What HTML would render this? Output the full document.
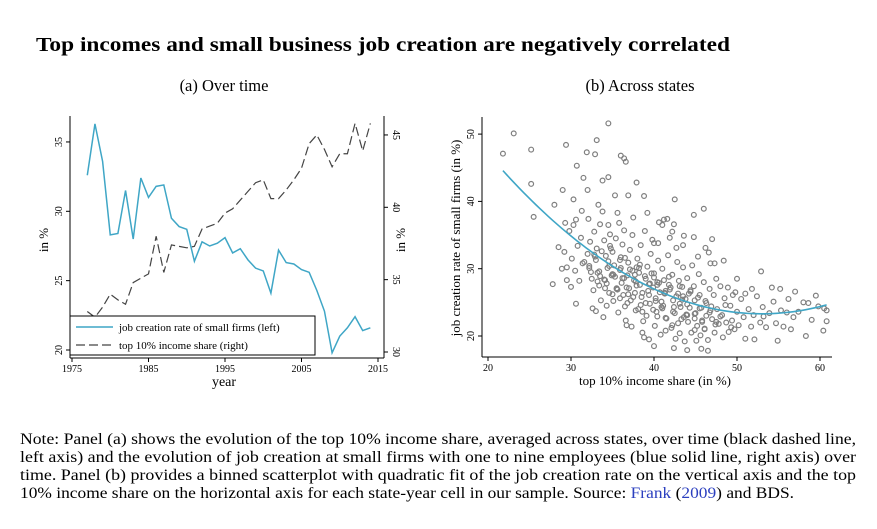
<!DOCTYPE html>
<html><head><meta charset="utf-8"><style>
html,body{margin:0;padding:0;background:#fff;}
svg{display:block;font-family:"Liberation Serif",serif;}
</style></head><body>
<svg id="root" width="877" height="529" viewBox="0 0 877 529" xmlns="http://www.w3.org/2000/svg">
<text x="36" y="51" font-size="20" font-weight="bold" textLength="694" lengthAdjust="spacingAndGlyphs">Top incomes and small business job creation are negatively correlated</text>
<text x="224" y="91" font-size="16.5" text-anchor="middle">(a) Over time</text>
<text x="640" y="91" font-size="16.5" text-anchor="middle">(b) Across states</text>
<g id="pa"></g>
<g id="pb"></g>
<g font-size="15.5">
<text x="20" y="444" textLength="836" lengthAdjust="spacingAndGlyphs">Note: Panel (a) shows the evolution of the top 10% income share, averaged across states, over time (black dashed line,</text>
<text x="20" y="462" textLength="836" lengthAdjust="spacingAndGlyphs">left axis) and the evolution of job creation at small firms with one to nine employees (blue solid line, right axis) over</text>
<text x="20" y="480" textLength="836" lengthAdjust="spacingAndGlyphs">time. Panel (b) provides a binned scatterplot with quadratic fit of the job creation rate on the vertical axis and the top</text>
<text x="20" y="498" textLength="774" lengthAdjust="spacingAndGlyphs">10% income share on the horizontal axis for each state-year cell in our sample. Source: <tspan fill="#2b3fbf">Frank</tspan> (<tspan fill="#2b3fbf">2009</tspan>) and BDS.</text>
</g>
</svg>
<script>
const years=[1977,1978,1979,1980,1981,1982,1983,1984,1985,1986,1987,1988,1989,1990,1991,1992,1993,1994,1995,1996,1997,1998,1999,2000,2001,2002,2003,2004,2005,2006,2007,2008,2009,2010,2011,2012,2013,2014];
const jobRate=[32.6,36.3,33.6,28.3,28.4,31.5,28.0,32.4,31.0,31.8,31.9,29.5,28.9,28.7,26.4,27.8,27.5,27.7,28.1,27.0,27.3,26.5,25.9,25.7,24.1,27.2,26.3,26.2,25.8,25.6,24.3,22.8,19.8,21.0,21.6,22.4,21.4,21.6];
const topShare=[32.8,32.4,33.1,34.0,33.6,33.3,34.8,35.1,35.4,38.0,35.5,37.4,37.3,37.2,37.3,38.5,38.7,38.9,39.6,39.9,40.5,41.1,41.7,41.9,40.6,40.6,41.2,41.9,42.7,44.4,45.0,44.0,42.8,43.7,43.7,45.8,43.9,45.8];
const yearTicks=[1975,1985,1995,2005,2015];
const leftTicks=[20,25,30,35];
const rightTicks=[30,35,40,45];
const scatterX=[21.8,23.1,25.2,25.2,25.5,29.4,31.9,32.9,33.1,34.5,34.5,30.7,31.5,36,36.4,36.6,37.9,42.5,46,44.8,28,29,30.3,32,33.8,35.3,36.9,38.8,27.8,30.6,33,36.7,38.8,40,42.4,44,45.7,46.5,52.9,55.2,57,59.5,60.8,60.8,60.4,58.3,54.9,52.1,51,56.5,53.2,56.2,58,54.2,51.8,50,49.8,48.4,47.3,46.2,47,44.8,43.5,41,39.2,41.2,42.2,40.5,
29.2,29.5,30.1,30.5,30.8,31,29.8,30.3,31.2,30,29.5,31.4,28.5,28.9,30.6,31.3,29.3,
32,32.2,32.5,32.7,32.3,32.8,33,33.2,33.4,33.6,33.1,33.5,33.8,34,34.2,34.4,34.1,34.6,34.3,34.8,34.9,32.6,33.9,32.1,33.3,34.5,34.7,
35,35.2,35.3,35.5,35.1,35.7,35.4,35.8,35.9,36,36.1,36.3,36.2,36.5,36.6,36.8,36.9,37,37.2,37.1,37.4,37.5,37.6,37.8,37.3,35.6,36.4,37.9,37.7,
38,38.2,38.3,38.5,38.1,38.7,38.4,38.9,39,39.2,39.3,39.5,39.1,39.6,39.8,39.9,40,40.2,40.3,40.1,40.5,40.6,40.4,40.7,40.9,40.8,38.6,39.4,40,
41,41.2,41.3,41.1,41.5,41.4,41.7,41.9,42,42.2,42.3,42.5,42.1,42.6,42.8,42.9,43,43.2,43.3,43.1,43.5,43.6,43.4,43.8,43.9,43.7,42.4,41.6,42.7,
44,44.2,44.3,44.1,44.5,44.6,44.8,44.9,45,45.2,45.1,45.4,45.5,45.7,45.8,45.6,46,46.2,46.3,46.1,46.5,46.7,46.8,46.9,46.6,45.3,
47,47.2,47.3,47.5,47.6,47.8,48,48.2,48.3,48.5,48.7,48.9,49,49.2,49.4,49.5,49.7,50,50.2,50.5,50.8,51,51.4,51.7,52,52.4,52.8,53.1,53.5,53.9,54.4,54.7,55.3,55.6,56,56.8,57.4,58.6,59,59.8,60.5,
31.6,32.4,32.9,33.5,33.7,34.3,34.6,35.1,35.6,35.9,36.2,36.7,37.1,37.5,37.8,38.3,38.6,39,39.4,39.7,40.2,40.6,41,41.4,41.8,42.3,42.7,43.1,43.6,44,44.4,44.9,45.3,45.8,46.3,46.8,47.4,48,48.6,49.3,
32.2,32.8,33.4,34,34.5,35,35.5,36,36.4,36.9,37.4,37.9,38.4,38.9,39.4,39.9,40.4,40.9,41.4,41.9,42.4,42.9,43.4,43.9,44.4,44.9,45.5,46.1,46.7,47.5,
33.2,34.1,35,35.9,36.8,37.7,38.6,39.5,40.4,41.3,42.2,43.1,44,44.9,34.7,36.5,38.2,40,41.8,43.5];
const scatterY=[47.1,50.1,47.7,42.6,37.7,48.4,47.3,47,49.1,51.6,43.6,45.3,43.5,46.8,46.4,45.9,42.8,40.3,38.9,38,39.5,41.7,40.3,41.7,43.1,40.9,40.9,40.8,27.7,24.8,23.7,21.6,19.8,18.5,18.2,17.9,18.1,17.8,29.6,27,26.6,26,23.8,22.2,20.8,20,19.3,19.5,19.6,21,22.9,25.5,25,27.2,27,28.5,26.5,31.2,30.8,33.1,34.4,34.7,33.5,36.5,38.3,37.3,35.5,33.8,
32.5,30.2,31.5,29.7,33.4,28.2,35.6,36.5,34.6,27.3,28.3,30.8,33.2,30,37.3,38.6,36.8,
32.2,30.1,28.5,26.8,34,35.5,31.3,29.4,27.5,25.3,33,36.6,38.5,34.2,31.9,30.1,28.3,26.4,24.5,33,29,24.1,22.8,37.4,39.5,36.5,35.1,
32.5,30.5,28.8,27,25.2,23.5,34.5,36.8,29.8,31.7,27.9,26.1,33.6,24.4,22.3,29,30.9,27.1,25.3,32.8,35,37.6,28.3,23.8,21.4,38.3,35.7,30.2,26.4,
31.5,29.4,27.6,25.8,24,22.2,33.5,35.6,28.5,30.3,26.7,24.8,23,32.2,34.3,27.2,29.3,25.6,23.6,21.5,31.2,36.9,28,26.5,24.3,20.2,20.5,19.5,33.8,
30,28.3,26.4,24.5,22.6,20.8,32,34.6,27.2,29.1,25.3,23.4,21.2,19.6,31,26.3,28.2,24.3,22.5,20.4,30.2,34.9,27.3,25.5,23.1,19.2,36.6,37.4,33.1,
28.6,26.3,24.2,22.1,20.5,30.5,27.4,25.3,23.4,21.5,19.3,29.2,26.1,24.2,22.3,20.1,28,25.2,23,21,19.4,27,30.8,24.4,32.4,31.8,
22.5,26.1,20.5,28.5,24,21.8,27.4,23.1,19.8,25.6,22,27.2,20.6,24.5,22.3,26.1,21,23.6,21.6,25.5,22.8,26.3,24,21.4,23.1,25.9,22,24.3,21.3,23.4,25.1,21.9,23.8,21.4,23.5,22.8,23.6,24.9,22.4,24.4,24.1,
31,29.5,31.8,28.9,32.6,27.8,30.4,29.1,26.9,31.3,28.6,27.2,29.9,25.8,28.1,30.6,26.4,24.9,27.7,29.3,25.2,27.9,24.1,26.7,28.8,23.6,25.9,27.4,22.8,24.7,26.8,23.3,25.7,22.1,24.9,23.8,21.7,22.9,24.6,21.3,
30.4,32.1,29.6,28.4,31.1,29.2,27.1,30.1,28.6,26.2,29.7,27.5,24.6,28.9,26.1,23.9,27.6,25.1,22.7,26.9,24.3,21.9,25.4,23.2,26.6,22.6,24.1,21.1,23.5,22.1,
28.1,27.1,26.2,25.6,24.9,29.1,23.6,27.8,22.9,26.3,21.6,24.8,23.1,20.9,33.4,31.6,30.1,28.7,27.6,25.9];
const xTicksB=[20,30,40,50,60];
const yTicksB=[20,30,40,50];
const fitCoef=[0.02185,53,23.3]; // a*(x-h)^2+k
const fitRange=[21.8,61];

const NS="http://www.w3.org/2000/svg";
function mk(parent,tag,attrs){const e=document.createElementNS(NS,tag);for(const k in attrs)e.setAttribute(k,attrs[k]);parent.appendChild(e);return e;}

// Panel A
const pa=document.getElementById('pa');
const xA=y=>72+(y-1975)*7.65;
const yL=v=>350-(v-20)*13.87;
const yR=v=>352-(v-30)*14.47;
let e;
e=mk(pa,'line',{x1:70,y1:358,x2:384,y2:358,stroke:'#000','stroke-width':1});

e=mk(pa,'line',{x1:70,y1:116,x2:70,y2:358,stroke:'#000','stroke-width':1});

e=mk(pa,'line',{x1:384,y1:116,x2:384,y2:358,stroke:'#000','stroke-width':1});

yearTicks.forEach(t=>{const x=xA(t);mk(pa,'line',{x1:x,y1:358,x2:x,y2:362,stroke:'#000'});
 e=mk(pa,'text',{x:x,y:372,'font-size':10,'text-anchor':'middle'});e.textContent=t;
 });
leftTicks.forEach(t=>{const y=yL(t);mk(pa,'line',{x1:66,y1:y,x2:70,y2:y,stroke:'#000'});
 e=mk(pa,'text',{x:0,y:0,'font-size':10,'text-anchor':'middle',transform:`translate(62,${y}) rotate(-90)`});e.textContent=t;
 });
rightTicks.forEach(t=>{const y=yR(t);mk(pa,'line',{x1:384,y1:y,x2:388,y2:y,stroke:'#000'});
 e=mk(pa,'text',{x:0,y:0,'font-size':10,'text-anchor':'middle',transform:`translate(393,${y}) rotate(90)`});e.textContent=t;
 });
e=mk(pa,'text',{x:0,y:0,'font-size':13,'text-anchor':'middle',transform:'translate(48,240) rotate(-90)'});e.textContent='in %';

e=mk(pa,'text',{x:0,y:0,'font-size':13,'text-anchor':'middle',transform:'translate(405,240) rotate(-90)'});e.textContent='in %';

e=mk(pa,'text',{x:224,y:386,'font-size':14,'text-anchor':'middle'});e.textContent='year';

e=mk(pa,'polyline',{points:years.map((y,i)=>xA(y)+','+yR(topShare[i])).join(' '),fill:'none',stroke:'#444','stroke-width':1.2,'stroke-dasharray':'9,4'});

e=mk(pa,'polyline',{points:years.map((y,i)=>xA(y)+','+yL(jobRate[i])).join(' '),fill:'none',stroke:'#3fa6c6','stroke-width':1.5});

e=mk(pa,'rect',{x:70,y:316,width:245,height:39,fill:'#fff',stroke:'#000','stroke-width':1});

mk(pa,'line',{x1:76,y1:327,x2:113,y2:327,stroke:'#3fa6c6','stroke-width':1.5});
e=mk(pa,'text',{x:119,y:331,'font-size':11});e.textContent='job creation rate of small firms (left)';

mk(pa,'line',{x1:76,y1:345,x2:113,y2:345,stroke:'#444','stroke-width':1.2,'stroke-dasharray':'9,4'});
e=mk(pa,'text',{x:119,y:349,'font-size':11});e.textContent='top 10% income share (right)';


// Panel B
const pb=document.getElementById('pb');
const xB=v=>488+(v-20)*8.3;
const yB=v=>336-(v-20)*6.73;
e=mk(pb,'line',{x1:482,y1:357,x2:832,y2:357,stroke:'#000'});

e=mk(pb,'line',{x1:482,y1:117,x2:482,y2:357,stroke:'#000'});

xTicksB.forEach(t=>{const x=xB(t);mk(pb,'line',{x1:x,y1:357,x2:x,y2:361,stroke:'#000'});
 e=mk(pb,'text',{x:x,y:371,'font-size':10,'text-anchor':'middle'});e.textContent=t;
 });
yTicksB.forEach(t=>{const y=yB(t);mk(pb,'line',{x1:478,y1:y,x2:482,y2:y,stroke:'#000'});
 e=mk(pb,'text',{x:0,y:0,'font-size':10,'text-anchor':'middle',transform:`translate(474,${y}) rotate(-90)`});e.textContent=t;
 });
e=mk(pb,'text',{x:0,y:0,'font-size':13,'text-anchor':'middle',transform:'translate(460,238) rotate(-90)'});e.textContent='job creation rate of small firms (in %)';

e=mk(pb,'text',{x:655,y:385,'font-size':13,'text-anchor':'middle'});e.textContent='top 10% income share (in %)';

const sg=mk(pb,'g',{fill:'none',stroke:'#7f7f7f','stroke-width':1.2});


scatterX.forEach((v,i)=>{e=mk(sg,'circle',{cx:xB(v),cy:yB(scatterY[i]),r:2.4});
 });
let pts=[];
for(let v=fitRange[0];v<=fitRange[1]+0.001;v+=0.5){const y=fitCoef[0]*(v-fitCoef[1])**2+fitCoef[2];pts.push(xB(v)+','+yB(y));}
e=mk(pb,'polyline',{points:pts.join(' '),fill:'none',stroke:'#3fa6c6','stroke-width':1.6});

</script>
</body></html>
